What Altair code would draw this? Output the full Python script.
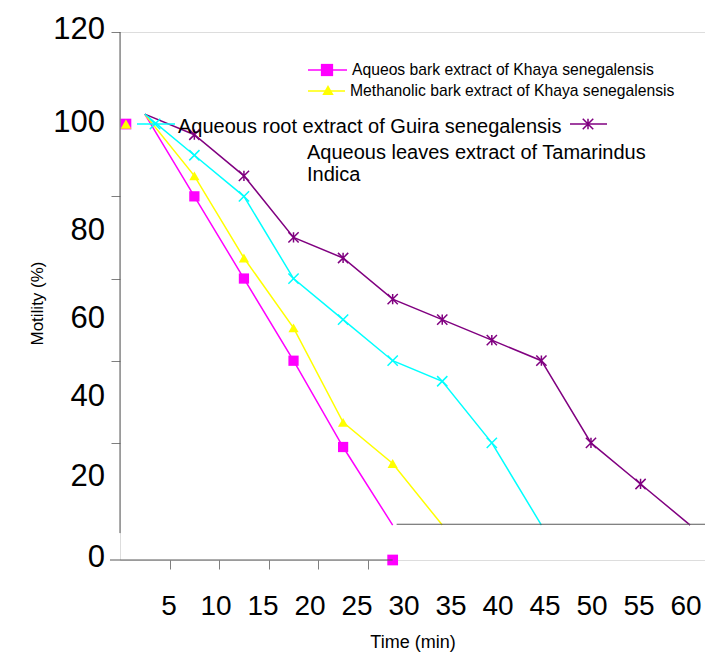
import altair as alt
import pandas as pd

FONT = "Liberation Sans"

# ---- data ----
times = [5, 10, 15, 20, 25, 30, 35, 40, 45, 50, 55, 60]
series_names = [
    "Aqueos bark extract of Khaya senegalensis",
    "Methanolic bark extract of Khaya senegalensis",
    "Aqueous root extract of Guira senegalensis",
    "Aqueous leaves extract of Tamarindus Indica",
]
series_colors = ["#FF00FF", "#FFFF00", "#800080", "#00FFFF"]
aqueos_bark = [100, 80, 60, 40, 19, 0]
methanolic_bark = [100, 85, 65, 48, 25, 15, 0]
guira_root = [100, 95, 85, 70, 65, 55, 50, 45, 40, 20, 10, 0]
tamarindus_leaves = [100, 90, 80, 60, 50, 40, 35, 20, 0]

# markers that the original drew away from their line
stray_series = [series_names[0], series_names[1], series_names[0]]
stray_time = [3.1, 3.1, 30]
stray_value = [97.6, 97.6, -8.5]

y_tick_values = [20, 40, 60, 80, 120]
y_tick_labels = ["120", "100", "80", "60", "40", "20", "0"]
y_label_at = [120.5, 97.9, 71.6, 50.1, 31.2, 11.7, -7.9]

x_tick_values = [7.5, 12.5, 17.5, 22.5, 27.5]
x_tick_labels = ["5", "10", "15", "20", "25", "30", "35", "40", "45", "50", "55", "60"]
x_label_at = [7.44, 12.18, 16.92, 21.66, 26.40, 31.14, 35.88, 40.62, 45.36, 50.10, 54.84, 59.58]

# ---- tables ----
rows = []
for name, vals in zip(series_names, [aqueos_bark, methanolic_bark, guira_root, tamarindus_leaves]):
    for t, v in zip(times, vals):
        rows.append({"series": name, "t": t, "v": v})
df = pd.DataFrame(rows)
df_mark = df[(df["t"] > 5) & (df["v"] > 0)]
df_stray = pd.DataFrame({"series": stray_series, "t": stray_time, "v": stray_value})
df_ylab = pd.DataFrame({"v": y_label_at, "label": y_tick_labels})
df_xlab = pd.DataFrame({"t": x_label_at, "label": x_tick_labels})

ASTERISK = "M-1,-1L1,1M-1,1L1,-1M0,-1L0,1"
XSHAPE = "M-1,-1L1,1M-1,1L1,-1"
shapes = ["square", "triangle-up", ASTERISK, XSHAPE]
filled_flags = [True, True, False, False]

xscale = alt.Scale(domain=[2.5, 61.5], nice=False, zero=False)
yscale = alt.Scale(domain=[-8.5, 120], nice=False, zero=False)
xaxis = alt.Axis(values=x_tick_values, tickSize=9, tickColor="#7f7f7f", domain=False,
                 labels=False, grid=False, title="Time (min)", titleFont=FONT,
                 titleFontSize=18, titleFontWeight="normal", titleColor="black",
                 titleY=82, titleBaseline="middle")
yaxis = alt.Axis(values=y_tick_values, tickSize=9, tickColor="#7f7f7f", domain=False,
                 labels=False, grid=False, title="Motility (%)", titleFont=FONT,
                 titleFontSize=17, titleFontWeight="normal", titleColor="black",
                 titleX=-83, titleY=271, titleBaseline="middle", titleAngle=270)
xenc = alt.X("t:Q", scale=xscale, axis=xaxis)
yenc = alt.Y("v:Q", scale=yscale, axis=yaxis)
colscale = alt.Scale(domain=series_names, range=series_colors)
color = alt.Color("series:N", scale=colscale, legend=None)

lines = alt.Chart(df).mark_line(strokeWidth=1.5).encode(
    x=xenc, y=yenc, color=color, order="t:Q")


def marker_layer(data, name, shape, col, filled, size):
    sub = data[data["series"] == name]
    if filled:
        m = alt.Chart(sub).mark_point(shape=shape, filled=True, color=col, size=size, opacity=1)
    else:
        m = alt.Chart(sub).mark_point(shape=shape, filled=False, color=col, size=size,
                                      strokeWidth=1.5, opacity=1)
    return m.encode(x=xenc, y=yenc)


markers = [marker_layer(df_mark, n, s, c, f, 105)
           for n, s, c, f in zip(series_names, shapes, series_colors, filled_flags)]
strays = [marker_layer(df_stray, n, s, c, f, 115)
          for n, s, c, f in zip(series_names[:2], shapes[:2], series_colors[:2], filled_flags[:2])]

base = alt.Chart(pd.DataFrame({"a": [0]}))
AX = "#595959"
yline = base.mark_rule(color=AX, strokeWidth=1).encode(
    x=alt.X(datum=2.5, scale=xscale), y=alt.Y(datum=120, scale=yscale), y2=alt.Y2(datum=-1.95))
lowline = base.mark_rule(color=AX, strokeWidth=1).encode(
    x=alt.X(datum=1.49, scale=xscale), x2=alt.X2(datum=30), y=alt.Y(datum=-8.5, scale=yscale))
upline = base.mark_rule(color=AX, strokeWidth=1).encode(
    x=alt.X(datum=30.4, scale=xscale), x2=alt.X2(datum=61.5), y=alt.Y(datum=0.2, scale=yscale))

ylabels = alt.Chart(df_ylab).mark_text(align="right", baseline="middle", font=FONT,
                                       fontSize=31, color="black").encode(
    x=alt.value(-15), y=yenc, text="label:N")
xlabels = alt.Chart(df_xlab).mark_text(align="center", baseline="middle", font=FONT,
                                       fontSize=28, color="black").encode(
    x=xenc, y=alt.value(575), text="label:N")


def seg(x1, x2, y, col, w=1.5):
    return base.mark_rule(color=col, strokeWidth=w).encode(
        x=alt.value(x1), x2=alt.value(x2), y=alt.value(y))


def sym(x, y, shape, col, size, fill=True):
    if fill:
        m = base.mark_point(shape=shape, filled=True, color=col, size=size, opacity=1)
    else:
        m = base.mark_point(shape=shape, filled=False, color=col, size=size,
                            strokeWidth=1.5, opacity=1)
    return m.encode(x=alt.value(x), y=alt.value(y))


def txt(x, y, s, size):
    return base.mark_text(align="left", baseline="middle", font=FONT, fontSize=size,
                          color="black", text=s).encode(x=alt.value(x), y=alt.value(y))


legend = [
    seg(188, 227, 38, series_colors[0]), sym(207, 38, "square", series_colors[0], 150),
    txt(232, 38, series_names[0], 15.7),
    seg(188, 225, 59, series_colors[1]), sym(208, 58, "triangle-up", series_colors[1], 130),
    txt(230, 59, series_names[1], 15.7),
    txt(58, 95, series_names[2], 20),
    seg(450, 487, 92, series_colors[2]), sym(468, 92, ASTERISK, series_colors[2], 110, False),
    txt(187, 121, "Aqueous leaves extract of Tamarindus", 20),
    txt(187, 143, "Indica", 20),
    seg(17, 55, 92, series_colors[3]), sym(35, 92, XSHAPE, series_colors[3], 110, False),
]

chart = alt.layer(
    lines, *markers, *strays, yline, lowline, upline, ylabels, xlabels, *legend
).properties(
    width=585, height=528,
    autosize=alt.AutoSizeParams(type="none"),
    padding={"left": 112, "top": 24, "right": 0, "bottom": 94},
).configure_view(stroke=None).configure(background="white")

chart.save("out.html", embed_options={"renderer": "svg", "actions": False})
